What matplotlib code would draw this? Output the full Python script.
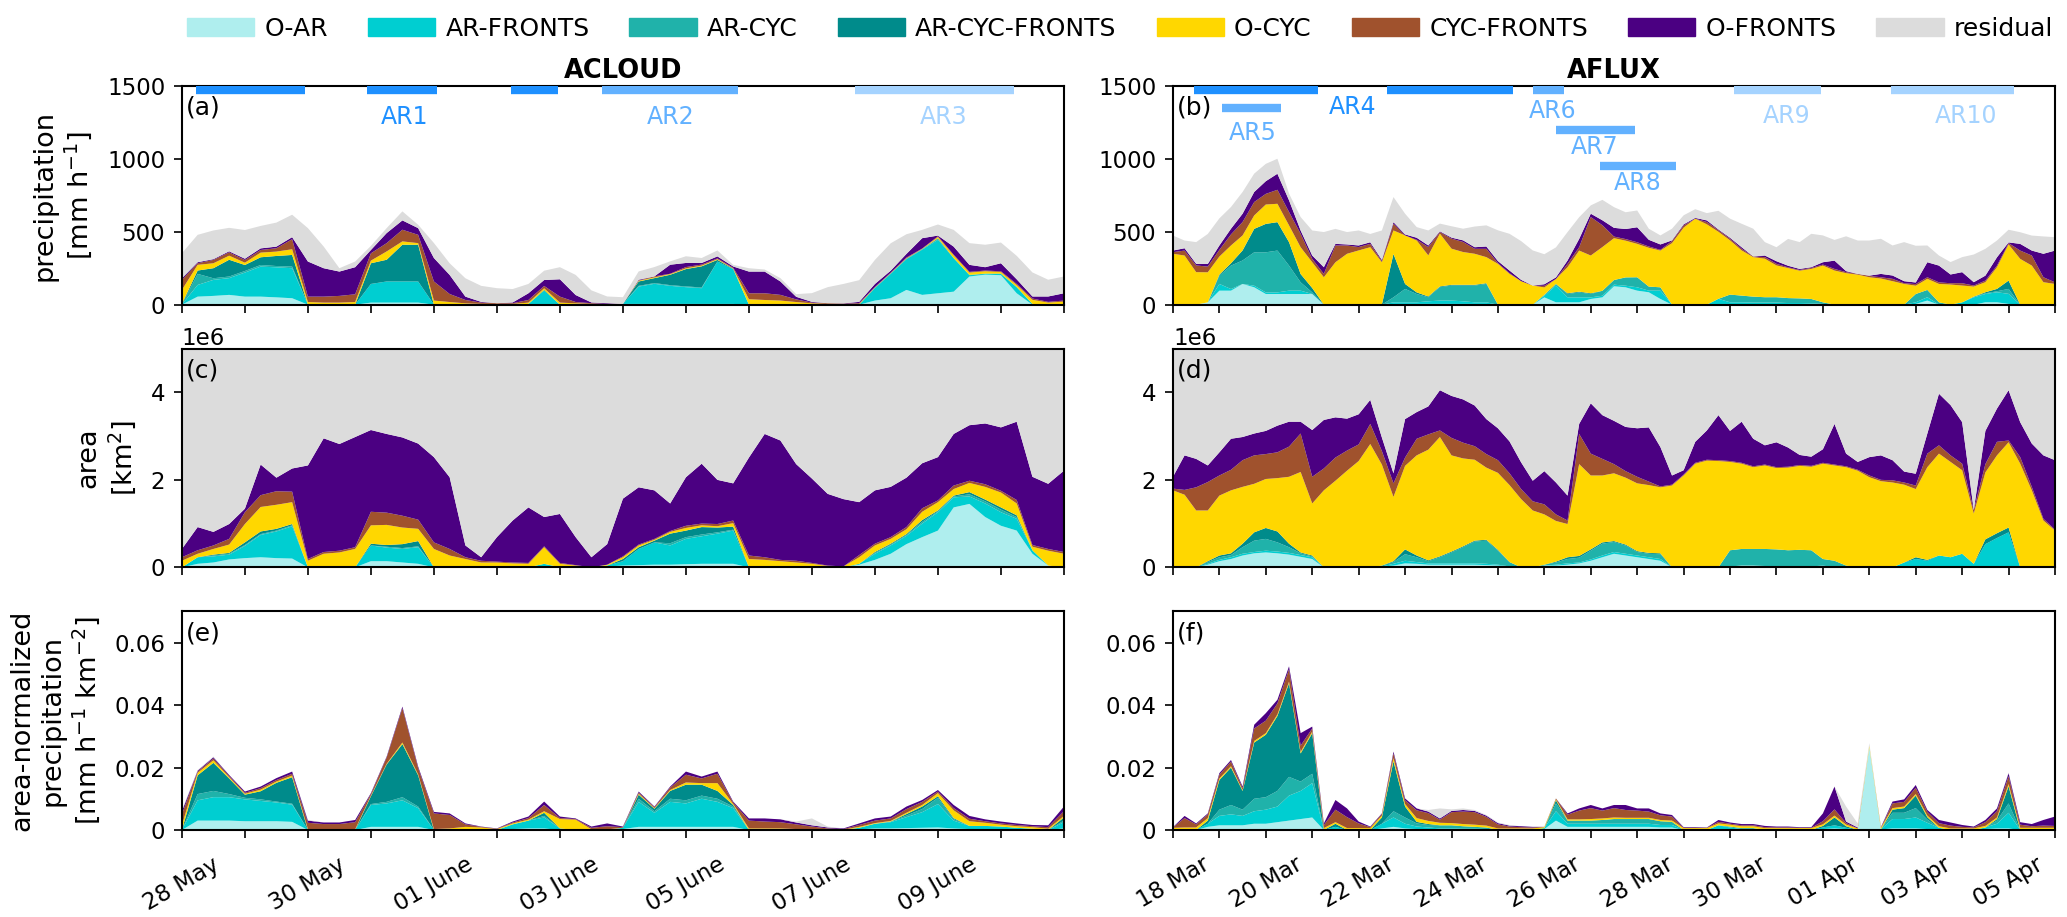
import numpy as np
import pandas as pd
import matplotlib
matplotlib.use('Agg')
import matplotlib.pyplot as plt
import matplotlib.dates as mdates
import matplotlib.patches as mpatches
import matplotlib.ticker as mticker

# categories and colours (bottom to top of the stack)
categories = ['O-AR', 'AR-FRONTS', 'AR-CYC', 'AR-CYC-FRONTS', 'O-CYC', 'CYC-FRONTS', 'O-FRONTS', 'residual']
colors = ['paleturquoise', 'darkturquoise', 'lightseagreen', 'darkcyan', 'gold', 'sienna', 'indigo', 'gainsboro']

# 6-hourly time axes of the two campaigns
acloud_time = pd.date_range('2017-05-28 00:00', '2017-06-11 00:00', freq='6h')
aflux_time = pd.date_range('2019-03-18 00:00', '2019-04-06 00:00', freq='6h')

# ---------------- ACLOUD precipitation [mm h-1] ----------------
acloud_prec_oar = [0,55,60,67,55,55,50,44, 0,0,0,0,14,14,14,14, 0,0,0,0,0,0,0,0, 0,0,0,0,5,5,5,5, 5,5,5,5,0,0,0,0, 0,0,0,0,28,44,101,67, 78,89,193,206,202,78,0,0, 0]
acloud_prec_arf = [0,80,110,115,165,206,206,206, 0,0,0,0,128,145,145,145, 0,0,0,0,0,0,5,96, 0,0,0,0,0,119,138,124, 115,108,291,239,0,0,0,0, 0,0,0,0,85,167,211,310, 367,229,9,5,9,41,5,0, 0]
acloud_prec_arc = [0,76,11,11,11,11,9,11, 0,0,0,0,0,0,0,0, 0,0,0,0,0,0,0,0, 0,0,0,0,0,5,5,5, 5,5,0,0,0,0,0,0, 0,0,0,0,2,2,2,2, 5,0,0,0,0,0,0,0, 0]
acloud_prec_acf = [5,23,69,115,41,53,69,80, 0,0,0,0,142,149,252,252, 0,0,0,0,0,0,0,5, 0,0,0,0,0,30,34,71, 119,145,11,2,0,0,0,0, 0,0,0,0,2,2,2,2, 5,2,2,2,2,2,0,0, 0]
acloud_prec_ocyc = [96,39,34,28,16,32,30,39, 18,14,14,18,18,57,23,11, 28,18,9,5,5,5,9,11, 14,9,5,5,0,5,5,5, 5,5,5,2,37,32,28,18, 9,5,5,5,2,2,2,2, 9,18,16,16,11,14,28,14, 21]
acloud_prec_cf = [69,11,23,23,18,18,23,69, 37,41,46,53,50,57,80,57, 131,55,23,9,5,5,18,16, 41,9,5,0,0,2,7,2, 9,7,5,5,41,46,39,18, 5,5,2,5,2,2,5,2, 5,5,5,5,5,7,9,5, 7]
acloud_prec_of = [11,7,5,7,9,11,11,14, 241,195,167,186,23,69,64,46, 161,131,23,5,0,5,46,41, 119,48,5,5,0,5,0,62, 28,11,14,9,149,149,92,18, 5,0,2,9,21,14,25,71, 5,55,48,23,55,32,14,37, 50]
acloud_prec_res = [172,188,197,161,197,154,165,154, 229,149,23,39,28,34,62,23, 103,80,126,110,103,92,64,64, 83,138,83,46,46,57,64,23, 46,34,41,11,23,14,23,18, 60,110,133,149,165,188,135,57, 76,115,149,154,142,161,165,115, 115]

# ---------------- AFLUX precipitation [mm h-1] ----------------
aflux_prec_oar = [0,0,0,16,96,96,142,119, 73,73,73,73,73,0,0,0, 0,0,0,5,5,5,5,5, 5,5,5,5,0,0,0,0, 50,16,16,16,39,50,126,119, 96,85,39,0,0,0,0,0, 0,0,0,0,0,0,0,0, 0,0,0,0,0,0,0,0, 5,28,0,0,0,0,16,16, 5,0,0,0,0]
aflux_prec_arf = [0,0,0,0,46,11,0,11, 11,11,23,23,0,0,0,0, 0,0,0,11,11,11,18,23, 23,18,11,11,0,0,0,0, 11,115,34,34,11,11,11,11, 23,11,57,0,0,0,0,40, 16,16,14,14,14,11,11,9, 5,0,0,0,0,0,0,0, 11,23,0,0,16,50,57,69, 69,0,0,0,0]
aflux_prec_arc = [0,0,0,0,57,161,161,229, 275,287,172,57,11,0,0,0, 0,0,0,34,92,57,28,92, 103,108,115,126,0,0,0,0, 7,11,23,34,23,34,32,57, 69,28,23,0,0,0,0,0, 53,46,41,37,37,34,32,30, 11,0,0,0,0,0,0,0, 57,50,16,0,0,5,5,7, 34,0,0,0,0]
aflux_prec_acf = [0,0,0,0,7,16,69,161, 195,195,161,57,30,0,0,0, 0,0,0,298,34,11,5,5, 5,5,5,5,0,0,0,0, 0,0,5,5,5,0,0,0, 0,0,0,0,0,0,0,0, 0,0,0,0,0,0,0,0, 0,0,0,0,0,0,0,0, 0,0,0,0,0,0,7,16, 57,0,0,0,0]
aflux_prec_ocyc = [349,337,223,206,124,122,103,92, 133,126,115,184,177,188,291,349, 372,394,291,161,333,356,282,362, 248,225,213,179,280,211,161,131, 50,34,179,282,259,300,287,252, 229,266,252,422,528,590,551,460, 372,310,271,264,218,206,190,206, 252,234,216,206,188,179,161,142, 57,76,126,138,115,69,69,149, 248,314,268,154,142]
aflux_prec_cf = [11,34,46,39,46,76,92,92, 73,96,92,92,23,23,115,57, 23,23,7,46,0,5,57,11, 69,69,34,57,5,5,0,0, 11,0,23,23,264,150,11,11, 11,9,5,14,16,0,16,11, 11,11,5,11,11,5,5,7, 7,11,7,5,9,9,16,5, 11,11,11,9,16,7,11,11, 9,57,69,34,11]
aflux_prec_of = [11,16,11,18,30,39,57,69, 87,110,80,23,23,46,11,7, 11,11,9,11,7,14,11,5, 7,11,11,16,14,18,9,0, 11,11,23,57,23,34,60,69, 103,46,37,5,7,5,11,5, 7,11,0,11,18,11,7,5, 16,57,7,0,2,23,23,14, 11,103,115,60,76,23,34,57, 5,46,34,161,218]
aflux_prec_res = [103,53,149,206,186,149,149,126, 119,103,46,92,172,241,103,85, 103,57,202,172,142,73,103,53, 78,80,142,145,211,252,266,241, 206,206,195,149,57,140,142,115, 115,76,62,80,62,60,50,128, 131,161,190,92,96,184,184,229, 184,142,239,229,241,241,206,268, 252,115,69,85,103,190,184,115, 87,80,103,119,92]

# ---------------- ACLOUD area [10^6 km2] ----------------
acloud_area_oar = [0,0.08,0.11,0.18,0.21,0.23,0.21,0.20, 0,0,0,0,0.14,0.14,0.11,0.08, 0,0,0,0,0,0,0,0, 0,0,0,0.02,0.04,0.05,0.06,0.06, 0.07,0.08,0.08,0.08,0,0,0,0, 0,0,0,0.06,0.17,0.31,0.53,0.69, 0.84,1.37,1.45,1.15,0.95,0.84,0.31,0.04, 0]
acloud_area_arf = [0,0.15,0.14,0.11,0.28,0.51,0.61,0.74, 0,0,0,0,0.36,0.31,0.31,0.38, 0,0,0,0,0,0,0,0.08, 0,0,0,0.02,0.10,0.37,0.51,0.44, 0.58,0.63,0.69,0.76,0,0,0,0, 0,0,0,0.02,0.14,0.19,0.19,0.31, 0.42,0.23,0.17,0.31,0.31,0.27,0.08,0, 0]
acloud_area_arc = [0,0,0.02,0.02,0.02,0.02,0.02,0.02, 0,0,0,0,0,0.02,0.02,0.02, 0,0,0,0,0,0,0,0, 0,0,0,0,0,0,0,0.05, 0.04,0.04,0.03,0.02,0,0,0,0, 0,0,0,0,0.02,0.02,0.02,0.04, 0.02,0.02,0.05,0.05,0.06,0.04,0,0, 0]
acloud_area_acf = [0,0,0.02,0.02,0.06,0.06,0.04,0.03, 0,0,0,0,0.04,0.04,0.09,0.12, 0,0,0,0,0,0,0,0, 0,0,0,0,0.05,0.04,0.04,0.22, 0.15,0.17,0.11,0.07,0,0,0,0, 0,0,0,0,0.02,0.02,0.02,0.04, 0.02,0.02,0.05,0.04,0.05,0.04,0,0, 0]
acloud_area_ocyc = [0.15,0.08,0.13,0.19,0.42,0.56,0.55,0.50, 0.15,0.31,0.34,0.42,0.42,0.46,0.38,0.28, 0.42,0.27,0.19,0.11,0.11,0.09,0.08,0.38, 0.08,0.04,0,0.02,0.04,0.04,0.02,0.04, 0.06,0.04,0.03,0.08,0.19,0.17,0.14,0.11, 0.08,0.03,0.02,0.15,0.15,0.11,0.11,0.19, 0.19,0.15,0.21,0.29,0.34,0.27,0.08,0.34, 0.31]
acloud_area_cf = [0.08,0.08,0.08,0.13,0.27,0.27,0.31,0.24, 0.04,0.04,0.04,0.04,0.31,0.28,0.27,0.21, 0.15,0.15,0.04,0.04,0.02,0.02,0.02,0.02, 0.02,0.01,0,0,0.02,0.02,0.02,0.02, 0.05,0.04,0.05,0.06,0.08,0.06,0.03,0.04, 0.02,0.01,0,0.05,0.04,0.04,0.05,0.08, 0.04,0.08,0.05,0.06,0.04,0.08,0.04,0.04, 0.04]
acloud_area_of = [0.19,0.53,0.31,0.34,0.08,0.70,0.31,0.53, 2.14,2.60,2.44,2.52,1.87,1.80,1.79,1.74, 1.95,1.64,0.27,0.08,0.56,0.96,1.27,0.67, 1.12,0.64,0.23,0.47,1.32,1.31,1.11,0.63, 1.11,1.37,1.01,0.85,2.24,2.82,2.73,2.21, 1.93,1.64,1.54,1.21,1.22,1.15,1.13,1.03, 0.99,1.18,1.27,1.39,1.45,1.79,1.56,1.49, 1.86]
acloud_area_res = [4.68,4.18,4.30,4.11,3.76,2.73,3.04,2.84, 2.77,2.15,2.28,2.12,1.96,2.05,2.13,2.27, 2.58,3.04,4.60,4.87,4.41,4.03,3.73,3.95, 3.88,4.41,4.87,4.57,3.53,3.27,3.34,3.64, 3.04,2.73,3.10,3.18,2.59,2.05,2.20,2.74, 3.07,3.42,3.54,3.61,3.34,3.26,3.05,2.72, 2.58,2.05,1.85,1.81,1.90,1.77,3.03,3.19, 2.89]

# ---------------- AFLUX area [10^6 km2] ----------------
aflux_area_oar = [0,0,0,0.06,0.14,0.19,0.27,0.32, 0.34,0.32,0.29,0.24,0.19,0,0,0, 0,0,0.02,0.04,0.09,0.08,0.06,0.06, 0.06,0.06,0.06,0.05,0.04,0.02,0,0, 0.04,0.04,0.06,0.09,0.15,0.23,0.31,0.27, 0.23,0.19,0.15,0,0,0,0,0, 0.02,0.04,0.04,0.03,0.03,0.02,0.02,0.02, 0,0,0,0,0,0,0,0, 0,0,0,0,0,0,0,0, 0,0,0,0,0]
aflux_area_arf = [0,0,0,0.02,0.03,0.04,0.04,0.03, 0.04,0.04,0.04,0.04,0.04,0,0,0, 0,0,0,0.04,0.06,0.04,0.03,0.03, 0.03,0.03,0.03,0.03,0.02,0,0,0, 0,0.02,0.03,0.02,0.03,0.04,0.04,0.04, 0.04,0.04,0.04,0,0,0,0,0, 0,0,0,0,0,0,0,0, 0.04,0,0,0,0,0,0,0.11, 0.19,0.15,0.27,0.23,0.31,0.08,0.53,0.67, 0.80,0,0,0,0]
aflux_area_arc = [0,0,0,0.04,0.06,0.05,0.15,0.26, 0.27,0.21,0.13,0.04,0.02,0,0,0, 0,0,0.02,0.04,0.15,0.11,0.05,0.14, 0.25,0.37,0.50,0.53,0.32,0.10,0,0, 0.02,0.05,0.10,0.11,0.20,0.27,0.23,0.19, 0.08,0.08,0.11,0,0,0,0,0, 0.37,0.38,0.38,0.39,0.38,0.37,0.38,0.37, 0.15,0.15,0.04,0,0,0,0,0, 0,0,0,0,0,0,0,0, 0,0,0,0,0]
aflux_area_acf = [0,0,0,0.02,0.04,0.04,0.08,0.19, 0.25,0.25,0.08,0.02,0.02,0,0,0, 0,0,0,0.02,0.11,0.04,0.02,0.02, 0.02,0.02,0.02,0.02,0.02,0,0,0, 0,0.02,0.04,0.04,0.03,0.03,0.02,0.02, 0.02,0.02,0.02,0,0,0,0,0, 0,0,0,0,0,0,0,0, 0,0,0,0,0,0,0,0, 0.04,0.02,0,0,0,0,0.11,0.11, 0.11,0,0,0,0]
aflux_area_ocyc = [1.76,1.66,1.30,1.16,1.37,1.44,1.30,1.11, 1.12,1.22,1.53,1.84,1.19,1.76,1.98,2.21, 2.43,2.82,2.31,1.47,1.91,2.29,2.53,2.73, 2.20,2.01,1.85,1.65,1.76,1.76,1.56,1.30, 1.15,0.93,0.76,2.10,1.69,1.53,1.55,1.53, 1.55,1.55,1.51,1.87,2.10,2.37,2.44,2.43, 2.02,1.95,1.87,1.91,1.86,1.89,1.92,1.91, 2.18,2.18,2.25,2.21,2.06,1.97,1.94,1.78, 1.56,2.12,2.33,2.18,1.91,1.15,1.53,1.78, 1.95,2.37,1.76,1.07,0.84]
aflux_area_cf = [0.04,0.11,0.53,0.65,0.46,0.47,0.61,0.65, 0.57,0.59,0.69,0.88,0.61,0.50,0.53,0.46, 0.38,0.46,0.31,0.31,0.19,0.38,0.35,0.15, 0.40,0.36,0.31,0.31,0.29,0.27,0.23,0.21, 0.23,0.15,0.08,0.69,0.50,0.38,0.21,0.15, 0.15,0.08,0.02,0.02,0.02,0.02,0.02,0.02, 0.02,0.02,0.02,0.02,0.02,0.02,0.02,0.02, 0.02,0.02,0.02,0.02,0.04,0.03,0.05,0.05, 0.08,0.31,0.19,0.15,0.15,0.08,0.19,0.31, 0.04,0.15,0.08,0.04,0.02]
aflux_area_of = [0.27,0.79,0.65,0.38,0.53,0.71,0.53,0.50, 0.53,0.61,0.57,0.27,1.07,1.11,0.92,0.73, 0.69,0.55,0.31,0.23,0.88,0.61,0.64,0.92, 0.96,0.99,0.93,0.80,0.73,0.73,0.61,0.47, 0.76,0.73,0.57,0.23,1.15,1.00,0.99,1.01, 1.11,1.24,0.90,0.21,0.10,0.48,0.67,1.03, 0.69,0.94,0.63,0.44,0.57,0.44,0.23,0.21, 0.31,0.93,0.29,0.18,0.42,0.56,0.46,0.25, 0.27,0.46,1.18,1.15,0.95,0,0.76,0.76, 1.15,0.80,0.99,1.45,1.59]
aflux_area_res = [3.04,2.54,2.62,2.77,2.47,2.16,2.12,2.05, 1.97,1.86,1.78,1.77,1.97,1.74,1.66,1.70, 1.60,1.27,2.13,2.95,1.70,1.55,1.42,1.05, 1.18,1.26,1.40,1.71,1.92,2.22,2.70,3.12, 2.90,3.15,3.46,1.82,1.36,1.63,1.76,1.90, 1.93,1.91,2.36,3.00,2.89,2.24,1.97,1.63, 1.98,1.78,2.16,2.31,2.24,2.36,2.53,2.57, 2.40,1.82,2.50,2.69,2.58,2.54,2.65,2.91, 2.96,2.04,1.13,1.39,1.78,3.79,1.98,1.47, 1.05,1.78,2.27,2.54,2.66]

# ---------------- ACLOUD area-normalized precipitation [10^-3 mm h-1 km-2] ----------------
acloud_norm_oar = [0,3.0,3.0,3.0,2.8,2.8,2.8,2.6, 0,0,0,0,1.0,1.0,1.0,1.0, 0,0,0,0,0,0.3,0.5,0.5, 0,0,0,0,0.3,1.0,1.0,1.0, 1.0,1.0,1.0,1.0,0,0,0,0, 0,0,0,0.2,0.5,0.5,0.6,0.7, 0.8,0.5,0.3,0.3,0.3,0.2,0.1,0, 0.5]
acloud_norm_arf = [0,6.5,7.5,7.5,7.0,6.5,6.0,5.5, 0,0,0,0,7.0,7.5,8.5,6.0, 0,0,0,0,0,1.5,2.5,3.5, 0.5,0,0,0,0.4,8.0,4.5,8.0, 7.5,9.0,8.0,6.0,0,0,0,0, 0,0,0,0.5,1.5,2.0,3.5,5.0, 7.5,2.5,1.0,1.0,0.8,0.5,0.3,0, 2.0]
acloud_norm_arc = [0,2.0,2.0,1.0,0.5,0.5,0.3,0.3, 0,0,0,0,0.3,0.5,1.0,0.5, 0,0,0,0,0,0,0,0.5, 0,0,0,0,0,1.0,0.5,1.0, 1.0,1.0,1.0,0.5,0,0,0,0, 0,0,0,0,0,0.2,0.5,1.0, 2.0,0.5,0,0,0,0,0,0, 0.5]
acloud_norm_acf = [0,6.0,9.0,5.0,1.0,2.6,6.0,8.5, 0,0,0,0,2.5,12.0,17.0,10.0, 0,0,0,0,0,0,0,1.0, 0,0,0,0,0,1.3,0.8,2.5, 5.0,3.5,2.5,0.5,0,0,0,0, 0,0,0,0,0,0,0.5,0.8, 0.5,0.3,0,0,0,0,0,0, 1.0]
acloud_norm_ocyc = [1.5,0.8,0.8,0.4,0.3,0.5,0.4,0.5, 0.3,0.1,0.1,0.2,0.2,0.2,0.5,0.3, 0.3,0.5,1.0,0.8,0.3,0.3,0.3,0.5, 3.0,3.3,0.2,0.2,0,0.3,0.2,0.3, 0.7,0.5,2.5,0.3,0.5,0.5,0.5,0.3, 0.3,0.2,0.1,0.3,0.2,0.2,0.4,0.5, 1.0,2.5,1.5,1.0,0.6,0.5,0.5,0.4, 0.5]
acloud_norm_cf = [3.5,0.4,0.6,0.4,0.3,0.5,0.5,0.6, 2.0,1.8,1.8,2.3,0.5,2.0,11.0,2.0, 5.0,4.3,0.8,0.2,0.1,0.3,0.5,2.0, 0.3,0.2,0.5,1.0,0.2,0.4,0.3,0.8, 2.5,1.5,3.0,0.5,2.5,2.2,2.0,1.5, 0.8,0.3,0.2,0.6,0.8,0.8,1.2,1.0, 0.5,0.7,0.8,0.5,0.4,0.4,0.3,0.5, 1.5]
acloud_norm_of = [1.0,0.3,0.4,0.3,0.4,0.5,0.6,0.7, 0.7,0.5,0.5,0.7,0.3,0.3,0.5,0.5, 0.5,0.5,0.3,0.1,0.1,0.3,0.5,1.1, 0.5,0.2,0.4,0.9,0.2,0.3,0.2,0.3, 1.0,0.6,0.7,0.3,0.7,1.0,0.9,0.6, 0.4,0.3,0.2,0.5,0.7,0.6,0.8,0.6, 0.5,1.0,0.9,0.6,0.6,0.5,0.4,0.6, 1.5]
acloud_norm_res = [0.3,0.2,0.2,0,0,0,0,0, 0.2,0,0,0,0,0,0,0, 0,0,0,0,0,0,0,0, 0,0,0,0,0,0,0,0, 0,0,0,0,0,0,0,0.3, 2.2,0.3,0,0,0,0,0,0, 0,0,0,0,0,0,0,0, 0]

# ---------------- AFLUX area-normalized precipitation [10^-3 mm h-1 km-2] ----------------
aflux_norm_oar = [0,0,0,1.0,1.5,1.5,1.5,2.0, 2.0,2.5,3.0,3.5,4.0,0,0,0, 0,0,0.5,1.0,0.5,0.3,0.3,0, 0,0,0,0,0,0,0,0, 0.3,3.0,1.0,1.0,1.0,1.0,1.0,1.0, 1.0,1.0,0.8,0.8,0,0,0,0, 0,0,0,0,0,0,0,0, 0.3,0.5,0.3,0,26.5,0.2,0.5,0.5, 0.5,0.3,0.2,0,0,0,0.3,0.5, 0.5,0,0,0,0]
aflux_norm_arf = [0,0,0,1.0,3.0,3.5,3.0,4.0, 4.5,5.0,8.0,9.0,11.0,0,1.0,0, 0,0,1.5,3.0,1.5,0.8,0.5,0.5, 0.5,0.4,0.4,0.3,0,0,0,0, 0.3,3.0,1.0,1.0,1.0,1.0,1.0,1.0, 1.0,1.0,0.8,0.8,0,0,0,1.5, 0.8,0.3,0.3,0,0,0,0,0, 0.5,1.0,0.4,0,0,0,3.0,3.0, 3.5,2.0,0.5,0,0,0,0.5,1.5, 5.0,0,0,0,0]
aflux_norm_arc = [0,0,0,0,2.0,3.0,2.0,4.0, 4.0,5.0,6.0,3.0,3.0,0,0,0, 0,0,0,2.0,2.0,1.0,0.8,1.0, 1.0,0.8,0.6,0.5,0,0,0,0, 0,2.5,1.0,1.0,1.0,1.2,1.5,1.5, 1.5,1.5,1.2,1.0,0,0,0,0, 0.3,0.3,0.3,0,0,0,0,0, 0,0,0,0,0,0,2.0,2.0, 3.0,1.0,0,0,0,0,0,1.0, 3.0,0,0,0,0]
aflux_norm_acf = [0,0,0,1.0,9.5,12.0,6.0,18.0, 20.0,24.0,30.0,9.0,13.0,0,1.0,0, 0,0,2.0,16.0,3.5,0.5,0.3,0, 0,0,0,0,0,0,0,0, 0,1.0,0,0,0,0,0,0, 0,0,0,0,0,0,0,0, 0,0,0,0,0,0,0,0, 0.5,2.5,0.5,0,0,0,1.0,1.5, 4.0,0.8,0,0,0,0,0,0.5, 5.5,0,0,0,0]
aflux_norm_ocyc = [0.7,0.8,0.8,0.8,0.5,0.4,0.3,0.5, 0.5,0.5,0.5,0.5,0.5,0.6,0.5,0.6, 0.6,0.6,0.6,1.0,0.8,1.2,1.0,0.8, 0.7,0.7,0.7,0.6,0.5,0.5,0.5,0.5, 0.3,0.3,0.4,0.4,0.5,0.5,0.5,0.4, 0.4,0.4,0.4,0.4,0.6,0.6,0.6,0.6, 0.6,0.6,0.6,0.6,0.6,0.6,0.6,0.6, 0.5,0.6,0.5,0.5,0.5,0.5,0.5,0.5, 0.5,0.5,0.5,0.5,0.5,0.5,0.5,0.5, 0.7,0.7,0.7,0.7,0.7]
aflux_norm_cf = [0.1,3.0,1.0,1.2,1.2,1.5,0.6,4.0, 4.0,3.5,4.0,2.0,1.0,1.0,4.0,3.5, 1.5,0.3,0.5,1.5,1.2,2.5,2.5,1.0, 3.5,4.0,4.0,2.8,1.3,0.6,0.4,0.3, 0.1,0.3,1.5,2.8,3.5,2.5,3.0,2.5, 2.3,2.0,1.5,1.3,0.1,0.1,0.1,0.5, 0.3,0.3,0.3,0.3,0.2,0.2,0.1,0.1, 1.0,2.0,0.5,0,0,0,1.5,1.5, 2.0,1.2,1.0,0.9,0.5,0.3,1.2,2.0, 2.5,1.0,0.5,0.7,0.6]
aflux_norm_of = [0.1,0.7,0.3,0.3,0.5,0.5,0.5,1.2, 2.4,1.2,0.9,4.0,0.6,0.5,3.1,2.8, 0.6,0.2,0.2,0.6,0.6,0.6,0.5,0.4, 0.4,0.5,0.4,0.4,0.4,0.3,0.3,0.2, 0,0,0.4,0.7,1.0,0.7,1.0,1.6, 0.7,1.0,0.6,0.5,0.2,0.2,0.1,0.6, 0.4,0.4,0.4,0.4,0.3,0.3,0.2,0.2, 2.5,7.3,0.5,0.3,0,0.2,0.6,0.8, 0.9,0.6,1.0,1.0,0.6,0.3,0.7,0.9, 1.0,0.8,0.7,1.8,3.0]
aflux_norm_res = [0,0,0,0,0,0,0,0, 0,0,0,0,0,0,0,0, 0,0,0,0,0,0,0.5,3.2, 0.5,0.5,0.3,0.2,0.2,0.2,0,0, 0,0,0,0,0,0,0,0, 0,0,0,0,0,0,0,0, 0,0,0,0,0,0,0,0, 0,0,4.8,1.3,0.8,0,0,0, 0,0,0,0,0,0,0,0, 0.2,0,0,0,0]

# ---------------- atmospheric river periods ----------------
# (label, start, end, bar level [mm h-1], shade)
acloud_ar_bars = [
    ('AR1', '2017-05-28 05:30', '2017-05-29 23:00', 1470, '#1e90ff'),
    ('AR1', '2017-05-30 22:20', '2017-06-01 01:00', 1470, '#1e90ff'),
    ('AR1', '2017-06-02 05:30', '2017-06-02 23:15', 1470, '#1e90ff'),
    ('AR2', '2017-06-03 16:00', '2017-06-05 20:00', 1470, '#62b1ff'),
    ('AR3', '2017-06-07 16:30', '2017-06-10 05:00', 1470, '#a5d3ff'),
]
acloud_ar_labels = [
    ('AR1', '2017-05-31 13:00', 1285, '#1e90ff'),
    ('AR2', '2017-06-04 18:00', 1285, '#62b1ff'),
    ('AR3', '2017-06-09 02:00', 1285, '#a5d3ff'),
]
aflux_ar_bars = [
    ('AR4', '2019-03-18 11:00', '2019-03-21 03:00', 1470, '#1e90ff'),
    ('AR4', '2019-03-22 14:30', '2019-03-25 08:00', 1470, '#1e90ff'),
    ('AR5', '2019-03-19 01:30', '2019-03-20 08:00', 1350, '#62b1ff'),
    ('AR6', '2019-03-25 18:00', '2019-03-26 10:00', 1470, '#62b1ff'),
    ('AR7', '2019-03-26 06:00', '2019-03-27 23:00', 1200, '#62b1ff'),
    ('AR8', '2019-03-27 05:00', '2019-03-28 20:00', 950, '#62b1ff'),
    ('AR9', '2019-03-30 02:00', '2019-03-31 23:00', 1470, '#a5d3ff'),
    ('AR10', '2019-04-02 11:00', '2019-04-05 03:00', 1470, '#a5d3ff'),
]
aflux_ar_labels = [
    ('AR4', '2019-03-21 21:00', 1355, '#1e90ff'),
    ('AR5', '2019-03-19 17:00', 1180, '#62b1ff'),
    ('AR6', '2019-03-26 04:30', 1330, '#62b1ff'),
    ('AR7', '2019-03-27 02:00', 1082, '#62b1ff'),
    ('AR8', '2019-03-28 00:00', 836, '#62b1ff'),
    ('AR9', '2019-03-31 05:30', 1295, '#a5d3ff'),
    ('AR10', '2019-04-04 02:00', 1295, '#a5d3ff'),
]

campaigns = [
    dict(name='ACLOUD', time=acloud_time,
         prec=[acloud_prec_oar, acloud_prec_arf, acloud_prec_arc, acloud_prec_acf,
               acloud_prec_ocyc, acloud_prec_cf, acloud_prec_of, acloud_prec_res],
         area=[acloud_area_oar, acloud_area_arf, acloud_area_arc, acloud_area_acf,
               acloud_area_ocyc, acloud_area_cf, acloud_area_of, acloud_area_res],
         norm=[acloud_norm_oar, acloud_norm_arf, acloud_norm_arc, acloud_norm_acf,
               acloud_norm_ocyc, acloud_norm_cf, acloud_norm_of, acloud_norm_res],
         bars=acloud_ar_bars, labels=acloud_ar_labels,
         xlim=('2017-05-28', '2017-06-11'), days=[28, 30, 1, 3, 5, 7, 9], fmt='%d %B',
         panels=['(a)', '(c)', '(e)']),
    dict(name='AFLUX', time=aflux_time,
         prec=[aflux_prec_oar, aflux_prec_arf, aflux_prec_arc, aflux_prec_acf,
               aflux_prec_ocyc, aflux_prec_cf, aflux_prec_of, aflux_prec_res],
         area=[aflux_area_oar, aflux_area_arf, aflux_area_arc, aflux_area_acf,
               aflux_area_ocyc, aflux_area_cf, aflux_area_of, aflux_area_res],
         norm=[aflux_norm_oar, aflux_norm_arf, aflux_norm_arc, aflux_norm_acf,
               aflux_norm_ocyc, aflux_norm_cf, aflux_norm_of, aflux_norm_res],
         bars=aflux_ar_bars, labels=aflux_ar_labels,
         xlim=('2019-03-18', '2019-04-06'), days=[18, 20, 22, 24, 26, 28, 30, 1, 3, 5], fmt='%d %b',
         panels=['(b)', '(d)', '(f)']),
]

fig, axes = plt.subplots(3, 2, figsize=(20.67, 9.17), dpi=100, sharex='col')
fig.subplots_adjust(left=0.088, right=0.9942, top=0.9062, bottom=0.0949,
                    wspace=0.1236, hspace=0.2014)

for col, camp in enumerate(campaigns):
    t = camp['time']
    ax_p, ax_a, ax_n = axes[0, col], axes[1, col], axes[2, col]

    ax_p.stackplot(t, *camp['prec'], colors=colors)
    ax_a.stackplot(t, *[np.array(s) * 1e6 for s in camp['area']], colors=colors)
    ax_n.stackplot(t, *[np.array(s) * 1e-3 for s in camp['norm']], colors=colors)

    # AR bars and labels
    for name, start, end, level, c in camp['bars']:
        ax_p.plot([pd.Timestamp(start), pd.Timestamp(end)], [level, level],
                  color=c, lw=6, solid_capstyle='butt', zorder=5)
    for name, xpos, ypos, c in camp['labels']:
        ax_p.text(pd.Timestamp(xpos), ypos, name, color=c, fontsize=17,
                  ha='center', va='center', zorder=6)

    ax_p.set_ylim(0, 1500)
    ax_p.set_yticks([0, 500, 1000, 1500])
    ax_a.set_ylim(0, 5e6)
    ax_a.set_yticks([0, 2e6, 4e6])
    ax_n.set_ylim(0, 0.07)
    ax_n.set_yticks([0, 0.02, 0.04, 0.06])
    ax_n.yaxis.set_major_formatter(mticker.FuncFormatter(lambda v, p: f'{v:g}'))

    ax_p.set_title(camp['name'], fontsize=18.5, fontweight='bold')

    for ax, lab in zip((ax_p, ax_a, ax_n), camp['panels']):
        ax.set_xlim(pd.Timestamp(camp['xlim'][0]), pd.Timestamp(camp['xlim'][1]))
        ax.text(0.004, 0.955, lab, transform=ax.transAxes, fontsize=18, va='top', ha='left', zorder=7)
        ax.tick_params(axis='both', which='both', labelsize=16.5, length=6, width=1.2)
        ax.tick_params(axis='x', which='both', pad=10.5)
        ax.tick_params(axis='y', pad=6)
        for sp in ax.spines.values():
            sp.set_linewidth(1.5)
        ax.yaxis.get_offset_text().set_fontsize(16.5)

    ax_n.xaxis.set_major_locator(mdates.DayLocator(bymonthday=camp['days']))
    ax_n.xaxis.set_minor_locator(mdates.DayLocator())
    ax_n.xaxis.set_major_formatter(mdates.DateFormatter(camp['fmt']))
    ax_n.tick_params(axis='x', labelrotation=30)
    for lbl in ax_n.get_xticklabels():
        lbl.set_ha('center')

axes[0, 0].set_ylabel('precipitation\n[mm h$^{-1}$]', fontsize=19.5, labelpad=9)
axes[1, 0].set_ylabel('area\n[km$^{2}$]', fontsize=19.5, labelpad=9)
axes[2, 0].set_ylabel('area-normalized\nprecipitation\n[mm h$^{-1}$ km$^{-2}$]', fontsize=19.5, labelpad=9)

handles = [mpatches.Patch(color=c, label=l) for c, l in zip(colors, categories)]
fig.legend(handles=handles, loc='upper center', bbox_to_anchor=(0.5419, 1.006), ncol=8,
           frameon=False, fontsize=18, handlelength=2.7, handletextpad=0.4, columnspacing=1.6)

fig.savefig('out.png', dpi=100)
